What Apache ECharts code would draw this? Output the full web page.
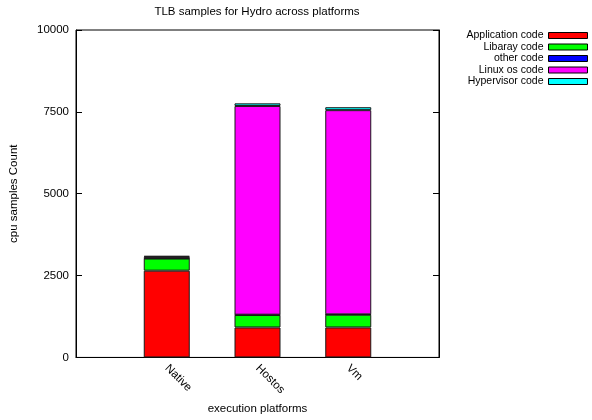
<!DOCTYPE html>
<html>
<head>
<meta charset="utf-8">
<script src="https://cdn.jsdelivr.net/npm/echarts@6/dist/echarts.min.js"></script>
<style>
  html, body { margin: 0; padding: 0; background: #fff; }
  #chart { width: 592px; height: 420px; }
</style>
</head>
<body>
<div id="chart"></div>
<script>
// Platforms on the x axis
const platforms = ['Native', 'Hostos', 'Vm'];

// TLB sample counts per code region, one value per platform
const applicationCode = [2650, 915, 915];
const libraryCode = [370, 380, 390];
const otherCode = [10, 10, 10];
const linuxOsCode = [45, 6375, 6237];
const hypervisorCode = [25, 80, 90];

// Y axis ticks
const yTicks = [0, 2500, 5000, 7500, 10000];

const seriesDefs = [
  { name: 'Application code', values: applicationCode, color: '#ff0000' },
  { name: 'Libaray code', values: libraryCode, color: '#00ff00' },
  { name: 'other code', values: otherCode, color: '#0000ff' },
  { name: 'Linux os code', values: linuxOsCode, color: '#ff00ff' },
  { name: 'Hypervisor code', values: hypervisorCode, color: '#00ffff' }
];

// One empty slot on each side so the bars sit at 1/4, 2/4, 3/4 of the width
const xCategories = [''].concat(platforms, ['']);
const pad = arr => [null].concat(arr, [null]);

const FONT = '"Liberation Sans", Arial, sans-serif';

const chart = echarts.init(document.getElementById('chart'), null, { renderer: 'canvas' });

chart.setOption({
  animation: false,
  backgroundColor: '#ffffff',
  title: {
    text: 'TLB samples for Hydro across platforms',
    left: 257,
    top: 6,
    padding: 0,
    textAlign: 'center',
    textStyle: { fontFamily: FONT, fontSize: 11.5, fontWeight: 'normal', color: '#000' }
  },
  legend: {
    orient: 'vertical',
    right: 4,
    top: 30,
    padding: 0,
    align: 'right',
    itemWidth: 39,
    itemHeight: 6,
    itemGap: 0.5,
    icon: 'rect',
    selectedMode: false,
    textStyle: { fontFamily: FONT, fontSize: 10.5, color: '#000' },
    data: seriesDefs.map(s => ({
      name: s.name,
      itemStyle: { color: s.color, borderColor: '#000', borderWidth: 1 }
    }))
  },
  grid: {
    left: 75, right: 153, top: 30, bottom: 56,
    show: true, borderColor: '#000', borderWidth: 1, backgroundColor: 'transparent'
  },
  xAxis: {
    type: 'category',
    data: xCategories,
    boundaryGap: false,
    name: 'execution platforms',
    nameLocation: 'middle',
    nameGap: 43,
    nameTextStyle: { fontFamily: FONT, fontSize: 11.5, color: '#000' },
    axisLine: { lineStyle: { color: '#000', width: 1 } },
    axisTick: { show: false },
    axisLabel: {
      rotate: -45,
      margin: 9,
      interval: 0,
      fontFamily: FONT, fontSize: 11.5, color: '#000'
    },
    splitLine: { show: false }
  },
  yAxis: [
    {
      type: 'value',
      min: yTicks[0],
      max: yTicks[yTicks.length - 1],
      interval: yTicks[1] - yTicks[0],
      name: 'cpu samples Count',
      nameLocation: 'middle',
      nameGap: 56,
      nameTextStyle: { fontFamily: FONT, fontSize: 11.5, color: '#000' },
      axisLine: { show: true, lineStyle: { color: '#000', width: 1 } },
      axisTick: { show: true, inside: true, length: 6, lineStyle: { color: '#000' } },
      axisLabel: { margin: 7, fontFamily: FONT, fontSize: 11.5, color: '#000', formatter: v => String(v) },
      splitLine: { show: false }
    },
    {
      type: 'value',
      position: 'right',
      min: yTicks[0],
      max: yTicks[yTicks.length - 1],
      interval: yTicks[1] - yTicks[0],
      axisLine: { show: true, lineStyle: { color: '#000', width: 1 } },
      axisTick: { show: true, inside: true, length: 6, lineStyle: { color: '#000' } },
      axisLabel: { show: false },
      splitLine: { show: false }
    }
  ],
  series: seriesDefs.map(s => ({
    name: s.name,
    type: 'bar',
    stack: 'total',
    barWidth: 46,
    data: pad(s.values),
    itemStyle: { color: s.color, borderColor: '#1a1a1a', borderWidth: 1 },
    emphasis: { disabled: true }
  }))
});
</script>
</body>
</html>
